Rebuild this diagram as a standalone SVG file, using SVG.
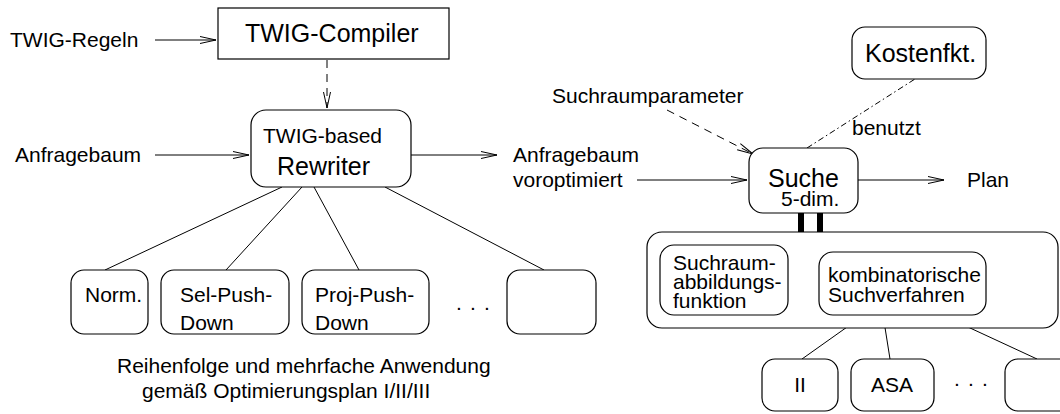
<svg xmlns="http://www.w3.org/2000/svg" width="1060" height="414" viewBox="0 0 1060 414">
  <style>
    text { font-family: "Liberation Sans", Arial, sans-serif; font-size: 21px; fill: #000; }
    .big { font-size: 25px; }
    .box { fill: #fff; stroke: #000; stroke-width: 1.2; }
    .edge { fill: none; stroke: #000; stroke-width: 1; }
    .arrow { marker-end: url(#vhead); }
    .dashed { stroke-dasharray: 8 6; }
    .dashdot { stroke-dasharray: 6 3 1.5 3; }
  </style>
  <defs>
    <!-- open V arrowhead used by all directed connectors -->
    <marker id="vhead" markerUnits="userSpaceOnUse" markerWidth="18" markerHeight="10" refX="16" refY="4.5" orient="auto">
      <path d="M0,1 L16,4.5 L0,8" fill="none" stroke="#000" stroke-width="1" stroke-dasharray="none"/>
    </marker>
  </defs>

  <rect width="1060" height="414" fill="#fff"/>

  <!-- connectors -->
  <g id="connectors">
    <line class="edge arrow" x1="155" y1="40" x2="216" y2="40"/>
    <line class="edge arrow" x1="155" y1="155" x2="249" y2="155"/>
    <line class="edge arrow dashed" x1="327" y1="60" x2="327" y2="108"/>
    <line class="edge arrow" x1="411" y1="155" x2="497" y2="155"/>
    <line class="edge" x1="282" y1="187" x2="105" y2="270"/>
    <line class="edge" x1="302" y1="187" x2="226" y2="270"/>
    <line class="edge" x1="314" y1="187" x2="359" y2="270"/>
    <line class="edge" x1="385" y1="187" x2="544" y2="270"/>
    <line class="edge arrow" x1="637" y1="180" x2="747" y2="180"/>
    <line class="edge arrow" x1="858" y1="180" x2="944" y2="180"/>
    <line class="edge arrow dashed" x1="667" y1="110" x2="753" y2="154"/>
    <line class="edge dashdot" x1="807" y1="148" x2="915" y2="79"/>
    <rect x="798" y="213" width="6" height="19" fill="#000"/>
    <rect x="817" y="213" width="6" height="19" fill="#000"/>
    <line class="edge" x1="864" y1="315" x2="802" y2="359"/>
    <line class="edge" x1="883" y1="315" x2="890" y2="359"/>
    <line class="edge" x1="942" y1="315" x2="1037" y2="359"/>
  </g>

  <!-- free labels -->
  <g id="labels">
    <text x="10" y="47">TWIG-Regeln</text>
    <text x="15" y="162">Anfragebaum</text>
    <text x="513" y="162">Anfragebaum</text>
    <text x="513" y="187">voroptimiert</text>
    <text x="552" y="103">Suchraumparameter</text>
    <text x="852" y="135">benutzt</text>
    <text x="967" y="187">Plan</text>
    <text x="456 470 484" y="310">...</text>
    <text x="954 968 982" y="386">...</text>
    <text x="117" y="373">Reihenfolge und mehrfache Anwendung</text>
    <text x="142" y="398">gemäß Optimierungsplan I/II/III</text>
  </g>

  <g id="twig-compiler">
    <rect class="box" x="218" y="8" width="231" height="51"/>
    <text class="big" x="245" y="42">TWIG-Compiler</text>
  </g>

  <g id="rewriter">
    <rect class="box" x="251" y="110" width="160" height="77" rx="15"/>
    <text x="263" y="143">TWIG-based</text>
    <text class="big" x="277" y="175">Rewriter</text>
  </g>

  <g id="norm">
    <rect class="box" x="71" y="270" width="77" height="64" rx="13"/>
    <text x="85" y="302">Norm.</text>
  </g>

  <g id="sel-push-down">
    <rect class="box" x="161" y="270" width="128" height="64" rx="13"/>
    <text x="180" y="302">Sel-Push-</text>
    <text x="180" y="330">Down</text>
  </g>

  <g id="proj-push-down">
    <rect class="box" x="302" y="270" width="127" height="64" rx="13"/>
    <text x="315" y="302">Proj-Push-</text>
    <text x="315" y="330">Down</text>
  </g>

  <g id="rule-more">
    <rect class="box" x="507" y="270" width="89" height="64" rx="13"/>
  </g>

  <g id="kostenfkt">
    <rect class="box" x="852" y="27" width="134" height="52" rx="13"/>
    <text class="big" x="865" y="62">Kostenfkt.</text>
  </g>

  <g id="suche">
    <rect class="box" x="749" y="148" width="109" height="65" rx="14"/>
    <text class="big" x="768" y="187">Suche</text>
    <text x="781" y="206">5-dim.</text>
  </g>

  <g id="suchkomponenten">
    <rect class="box" x="647" y="232" width="411" height="96" rx="15"/>
  </g>

  <g id="suchraumabbildung">
    <rect class="box" x="660" y="245" width="128" height="70" rx="14"/>
    <text x="673" y="270">Suchraum-</text>
    <text x="673" y="289">abbildungs-</text>
    <text x="673" y="308">funktion</text>
  </g>

  <g id="suchverfahren">
    <rect class="box" x="819" y="252" width="167" height="63" rx="14"/>
    <text x="828" y="282">kombinatorische</text>
    <text x="828" y="302">Suchverfahren</text>
  </g>

  <g id="ii">
    <rect class="box" x="762" y="359" width="76" height="52" rx="13"/>
    <text x="800" y="392" text-anchor="middle">II</text>
  </g>

  <g id="asa">
    <rect class="box" x="851" y="359" width="83" height="52" rx="13"/>
    <text x="871" y="392">ASA</text>
  </g>

  <g id="verfahren-more">
    <rect class="box" x="1005" y="359" width="70" height="52" rx="13"/>
  </g>
</svg>
